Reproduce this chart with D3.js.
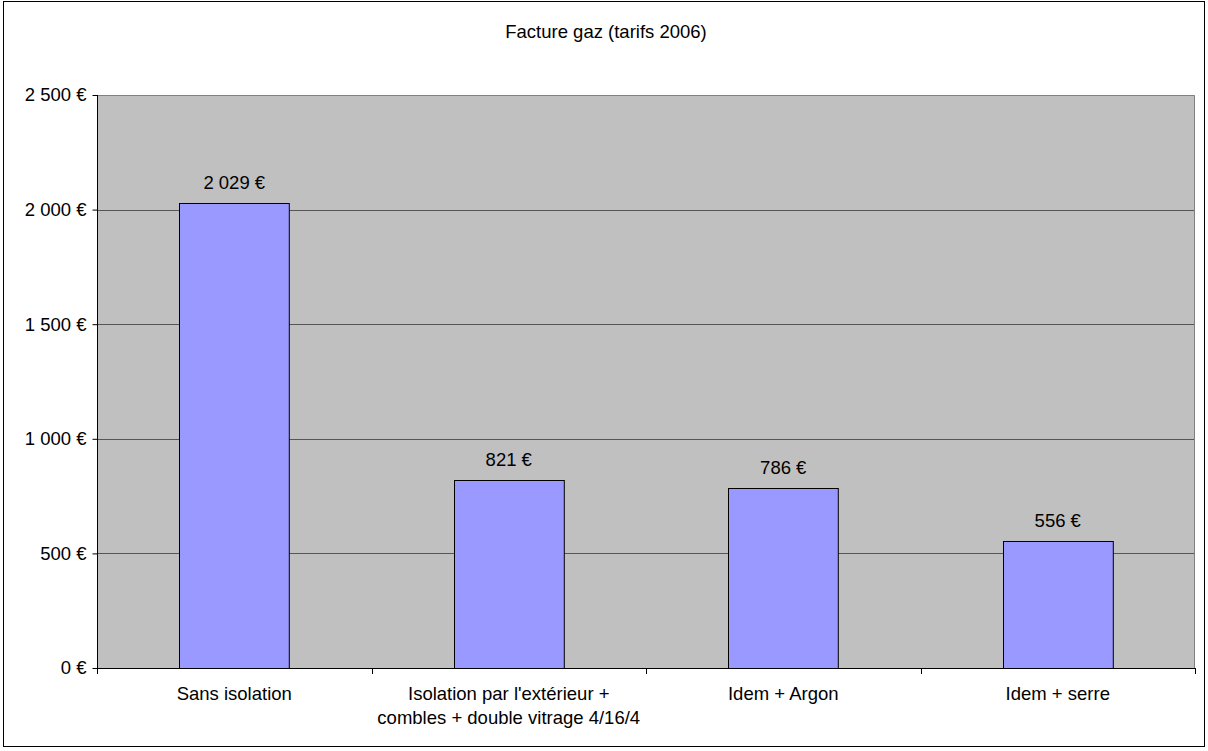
<!DOCTYPE html>
<html>
<head>
<meta charset="utf-8">
<script src="https://cdn.jsdelivr.net/npm/d3@7"></script>
<style>
  html, body { margin: 0; padding: 0; background: #fff; }
  svg text { font-family: "Liberation Sans", Arial, sans-serif; fill: #000; }
</style>
</head>
<body>
<svg id="chart" width="1208" height="751"></svg>
<script>
// Gas bill per insulation scenario (2006 prices)
const titleText = "Facture gaz (tarifs 2006)";
const categories = [
  ["Sans isolation"],
  ["Isolation par l'extérieur +", "combles + double vitrage 4/16/4"],
  ["Idem + Argon"],
  ["Idem + serre"]
];
const values = [2029, 821, 786, 556];
const yTicks = [0, 500, 1000, 1500, 2000, 2500];

const svg = d3.select("#chart");
const W = 1208, H = 751;
const plot = { left: 97, right: 1195, top: 95, bottom: 668 };
const fontSize = 18.5;

const euro = v => d3.format(",")(v).replace(/,/g, "\u00a0") + "\u00a0€";

// outer frame
svg.append("rect")
  .attr("x", 3.5).attr("y", 1.5)
  .attr("width", 1201).attr("height", 745)
  .attr("fill", "#fff").attr("stroke", "#000").attr("stroke-width", 1);

const x = d3.scaleBand()
  .domain(d3.range(categories.length))
  .range([plot.left, plot.right])
  .paddingInner(0.6).paddingOuter(0.3);

const y = d3.scaleLinear().domain([0, 2500]).range([plot.bottom, plot.top]);

// plot background
svg.append("rect")
  .attr("x", plot.left).attr("y", plot.top)
  .attr("width", plot.right - plot.left).attr("height", plot.bottom - plot.top)
  .attr("fill", "#c0c0c0");

// plot border (top and right)
svg.append("path")
  .attr("d", `M${plot.left},${plot.top + 0.5}H${plot.right - 0.5}V${plot.bottom}`)
  .attr("fill", "none").attr("stroke", "#808080");

// gridlines
svg.append("g").selectAll("line")
  .data(yTicks.filter(t => t > 0 && t < 2500))
  .join("line")
  .attr("x1", plot.left).attr("x2", plot.right - 1)
  .attr("y1", d => Math.round(y(d)) + 0.5).attr("y2", d => Math.round(y(d)) + 0.5)
  .attr("stroke", "#555").attr("stroke-width", 1);

// bars
svg.append("g").selectAll("rect")
  .data(values)
  .join("rect")
  .attr("x", (d, i) => Math.round(x(i)) + 0.5)
  .attr("y", d => Math.round(y(d)) + 0.5)
  .attr("width", x.bandwidth())
  .attr("height", d => Math.round(y(0)) - Math.round(y(d)))
  .attr("fill", "#9999ff")
  .attr("stroke", "#000").attr("stroke-width", 1);

// value labels
svg.append("g").selectAll("text")
  .data(values)
  .join("text")
  .attr("x", (d, i) => x(i) + x.bandwidth() / 2)
  .attr("y", d => y(d) - 14)
  .attr("text-anchor", "middle")
  .attr("font-size", fontSize)
  .text(d => euro(d));

// y axis
const yAxis = d3.axisLeft(y)
  .tickValues(yTicks)
  .tickSize(5)
  .tickPadding(6)
  .tickFormat(euro);
const gy = svg.append("g")
  .attr("transform", `translate(${plot.left + 0.5},0)`)
  .call(yAxis);
gy.select(".domain").attr("stroke", "#000").attr("d", `M0,${plot.top}V${plot.bottom + 1}`);
gy.selectAll(".tick line").attr("stroke", "#000");
gy.selectAll(".tick text")
  .attr("font-size", fontSize)
  .attr("font-family", "Liberation Sans, Arial, sans-serif")
  .attr("fill", "#000");

// x axis: baseline, boundary ticks, wrapped category labels
const step = x.step();
const boundaries = d3.range(categories.length + 1).map(i => plot.left + i * step);
const gx = svg.append("g");
gx.append("line")
  .attr("x1", plot.left).attr("x2", plot.right)
  .attr("y1", plot.bottom + 0.5).attr("y2", plot.bottom + 0.5)
  .attr("stroke", "#000");
gx.selectAll("line.tick")
  .data(boundaries)
  .join("line").attr("class", "tick")
  .attr("x1", d => Math.round(d) + 0.5).attr("x2", d => Math.round(d) + 0.5)
  .attr("y1", plot.bottom).attr("y2", plot.bottom + 6)
  .attr("stroke", "#000");

const catText = gx.selectAll("text.cat")
  .data(categories)
  .join("text").attr("class", "cat")
  .attr("text-anchor", "middle")
  .attr("font-size", fontSize)
  .attr("x", (d, i) => x(i) + x.bandwidth() / 2)
  .attr("y", 700);
catText.selectAll("tspan")
  .data(d => d)
  .join("tspan")
  .attr("x", function () { return d3.select(this.parentNode).attr("x"); })
  .attr("dy", (d, i) => i === 0 ? 0 : 23.5)
  .text(d => d);

// title
svg.append("text")
  .attr("x", 606).attr("y", 37.5)
  .attr("text-anchor", "middle")
  .attr("font-size", fontSize)
  .text(titleText);
</script>
</body>
</html>
